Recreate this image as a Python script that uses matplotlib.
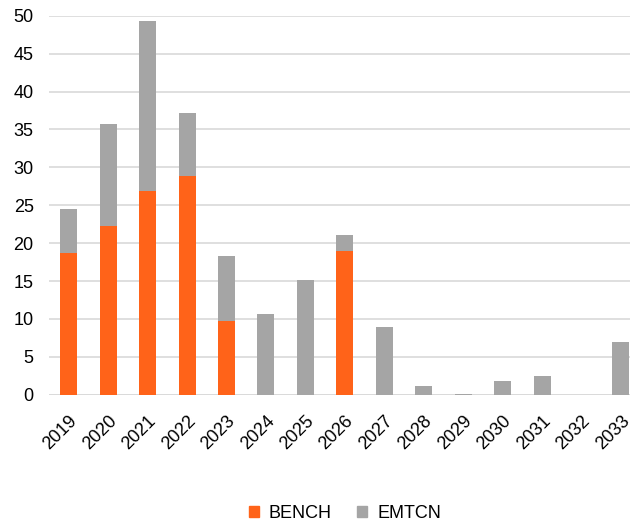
import matplotlib
matplotlib.use("Agg")
import matplotlib.pyplot as plt
from matplotlib.patches import Patch

years = ["2019", "2020", "2021", "2022", "2023", "2024", "2025", "2026",
         "2027", "2028", "2029", "2030", "2031", "2032", "2033"]
bench = [18.7, 22.3, 26.9, 28.9, 9.7, 0, 0, 19.0, 0, 0, 0, 0, 0, 0, 0]
emtcn = [5.8, 13.4, 22.4, 8.3, 8.6, 10.7, 15.1, 2.1, 8.9, 1.2, 0.1, 1.85, 2.45, 0, 6.9]

orange = "#FF6319"
gray = "#A5A5A5"

plt.rcParams['font.family'] = ['Liberation Sans', 'DejaVu Sans']

fig = plt.figure(figsize=(6.34, 5.21), dpi=100)
ax = fig.add_axes([49/634, 1 - 394.7/521, (630-49)/634, (394.7-15.7)/521])

x = list(range(len(years)))
w = 0.43
ax.bar(x, bench, width=w, color=orange, zorder=3)
ax.bar(x, emtcn, width=w, bottom=bench, color=gray, zorder=3)

ax.set_ylim(0, 50)
ax.set_xlim(-0.5, 14.23)
ax.set_yticks(range(0, 51, 5))
ax.set_xticks(x)
ax.set_xticklabels(years, rotation=45, ha='right', rotation_mode='anchor')
ax.tick_params(axis='both', length=0, labelsize=13, colors='#000000')
ax.tick_params(axis='x', pad=13)
ax.tick_params(axis='y', pad=11)
ax.yaxis.grid(True, color='#D9D9D9', linewidth=1.2, zorder=0)
for s in ax.spines.values():
    s.set_visible(False)
ax.axhline(0, color='#D9D9D9', linewidth=1.2, zorder=2)

handles = [Patch(color=orange, label='BENCH'), Patch(color=gray, label='EMTCN')]
fig.legend(handles=handles, loc='center', bbox_to_anchor=(345/634, 1 - 513/521),
           ncol=2, frameon=False, fontsize=13, handlelength=0.55, handleheight=0.55,
           columnspacing=1.4, handletextpad=0.55)

fig.savefig("out.png", dpi=100)
